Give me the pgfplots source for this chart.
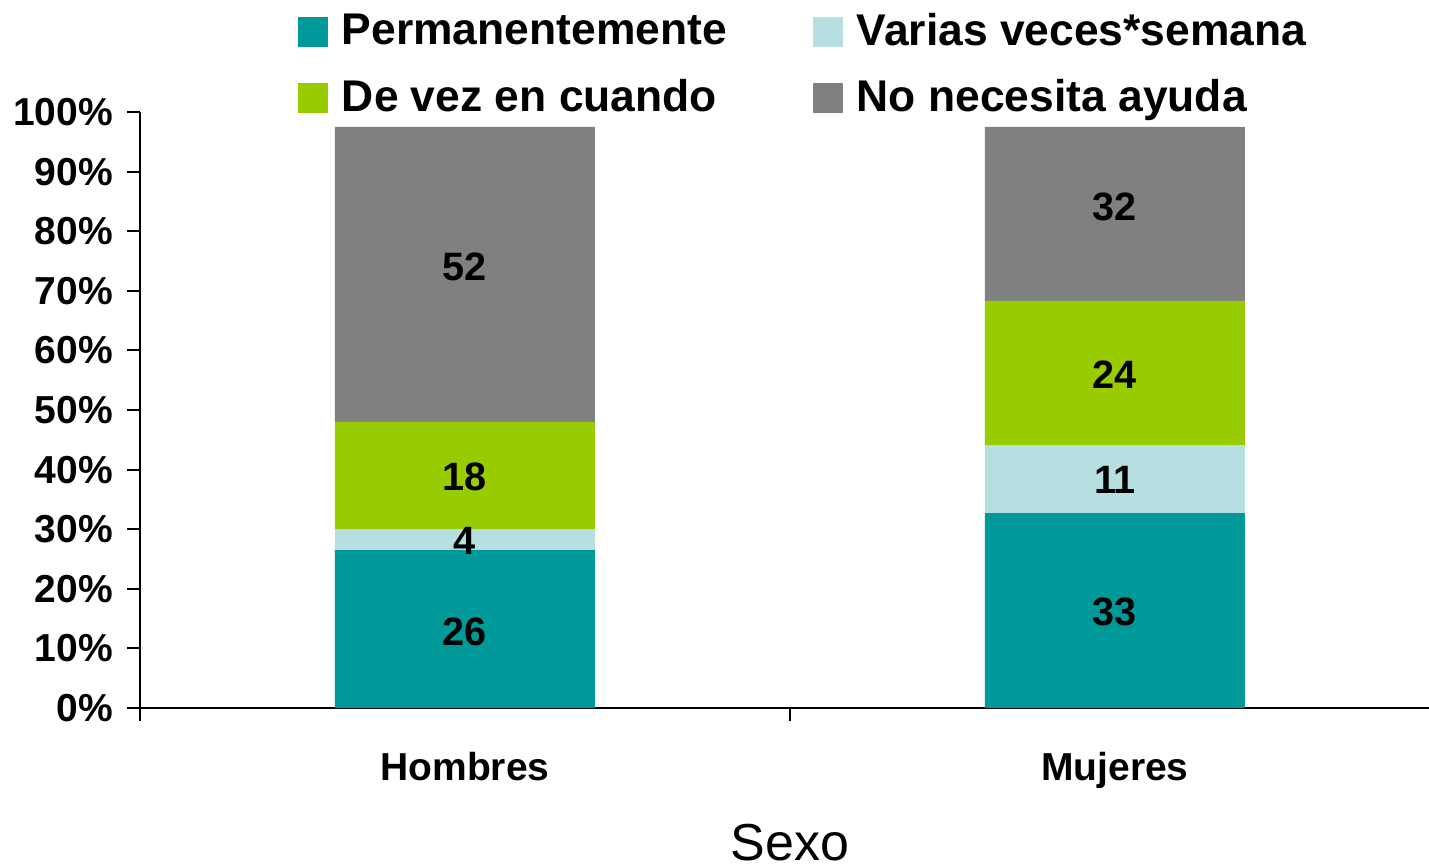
\documentclass[border=0pt]{standalone}
\usepackage{fontspec}
\setmainfont{Liberation Sans}
\usepackage{pgfplots}
\pgfplotsset{compat=1.18}

\definecolor{perm}{RGB}{0,153,153}
\definecolor{varias}{RGB}{183,222,225}
\definecolor{devez}{RGB}{153,204,0}
\definecolor{noayuda}{RGB}{128,128,128}

\pgfplotsset{
    common/.style={
        scale only axis,
        width=325pt, height=149pt,
        xmin=-0.5, xmax=1.5, ymin=0, ymax=100,
    },
}

\begin{document}
\begin{tikzpicture}
\begin{axis}[
    common,
    name=ax,
    ybar stacked, bar width=0.4,
    axis x line*=bottom, axis y line*=left,
    axis line style={black, line width=0.5pt},
    tick align=outside,
    major tick length=3.25pt,
    tick style={black, line width=0.5pt},
    ytick={0,10,...,100},
    yticklabel={\pgfmathprintnumber{\tick}\%},
    /pgf/number format/assume math mode=true,
    yticklabel style={font=\bfseries\fontsize{9.75}{11}\selectfont},
    xtick={-0.5,0.5}, xticklabels={,,},
    extra x ticks={0,1},
    extra x tick labels={Hombres,Mujeres},
    extra x tick style={major tick length=0pt,
        tick label style={font=\bfseries\fontsize{9.75}{11}\selectfont, yshift=-7.5pt}},
    xlabel={Sexo},
    xlabel style={at={(axis description cs:0.5,0)}, anchor=center,
        yshift=-33.75pt, font=\fontsize{13}{15}\selectfont},
    legend columns=2,
    legend cell align=left,
    legend image code/.code={\fill[#1] (0pt,-3.75pt) rectangle (7.5pt,3.75pt);},
    legend style={at={(0.1215,1.179)}, anchor=north west,
        draw=none, fill=none, inner sep=0pt, outer sep=0pt,
        font=\bfseries\fontsize{11.1}{13}\selectfont,
        /tikz/every odd column/.append style={column sep=1.5pt},
        /tikz/every even column/.append style={column sep=19.5pt},
        /tikz/row sep=2.95pt},
]
% bar heights as drawn
\addplot[fill=perm, draw=none] coordinates {(0,26.5) (1,32.7)};
\addlegendentry{Permanentemente}
\addplot[fill=varias, draw=none] coordinates {(0,3.5) (1,11.4)};
\addlegendentry{Varias veces*semana}
\addplot[fill=devez, draw=none] coordinates {(0,18) (1,24.2)};
\addlegendentry{De vez en cuando}
\addplot[fill=noayuda, draw=none] coordinates {(0,49.5) (1,29.2)};
\addlegendentry{No necesita ayuda}
\end{axis}
% data labels, centred in their segments
\begin{axis}[
    common,
    at={(ax.south west)}, anchor=south west,
    hide axis,
    point meta=explicit symbolic,
    nodes near coords,
    every node near coord/.append style={anchor=center, black,
        font=\bfseries\fontsize{9.9}{12}\selectfont},
]
\addplot[draw=none, mark=none, nodes near coords] coordinates {
    (0,12.8) [26] (0,28.0) [4] (0,38.8) [18] (0,74.0) [52]
    (1,16.1) [33] (1,38.3) [11] (1,55.9) [24] (1,84.0) [32]
};
\end{axis}
\pgfresetboundingbox
\path (ax.south west) ++(-35pt,-39.5pt) rectangle ++(357.25pt,216.5pt);
\end{tikzpicture}
\end{document}
